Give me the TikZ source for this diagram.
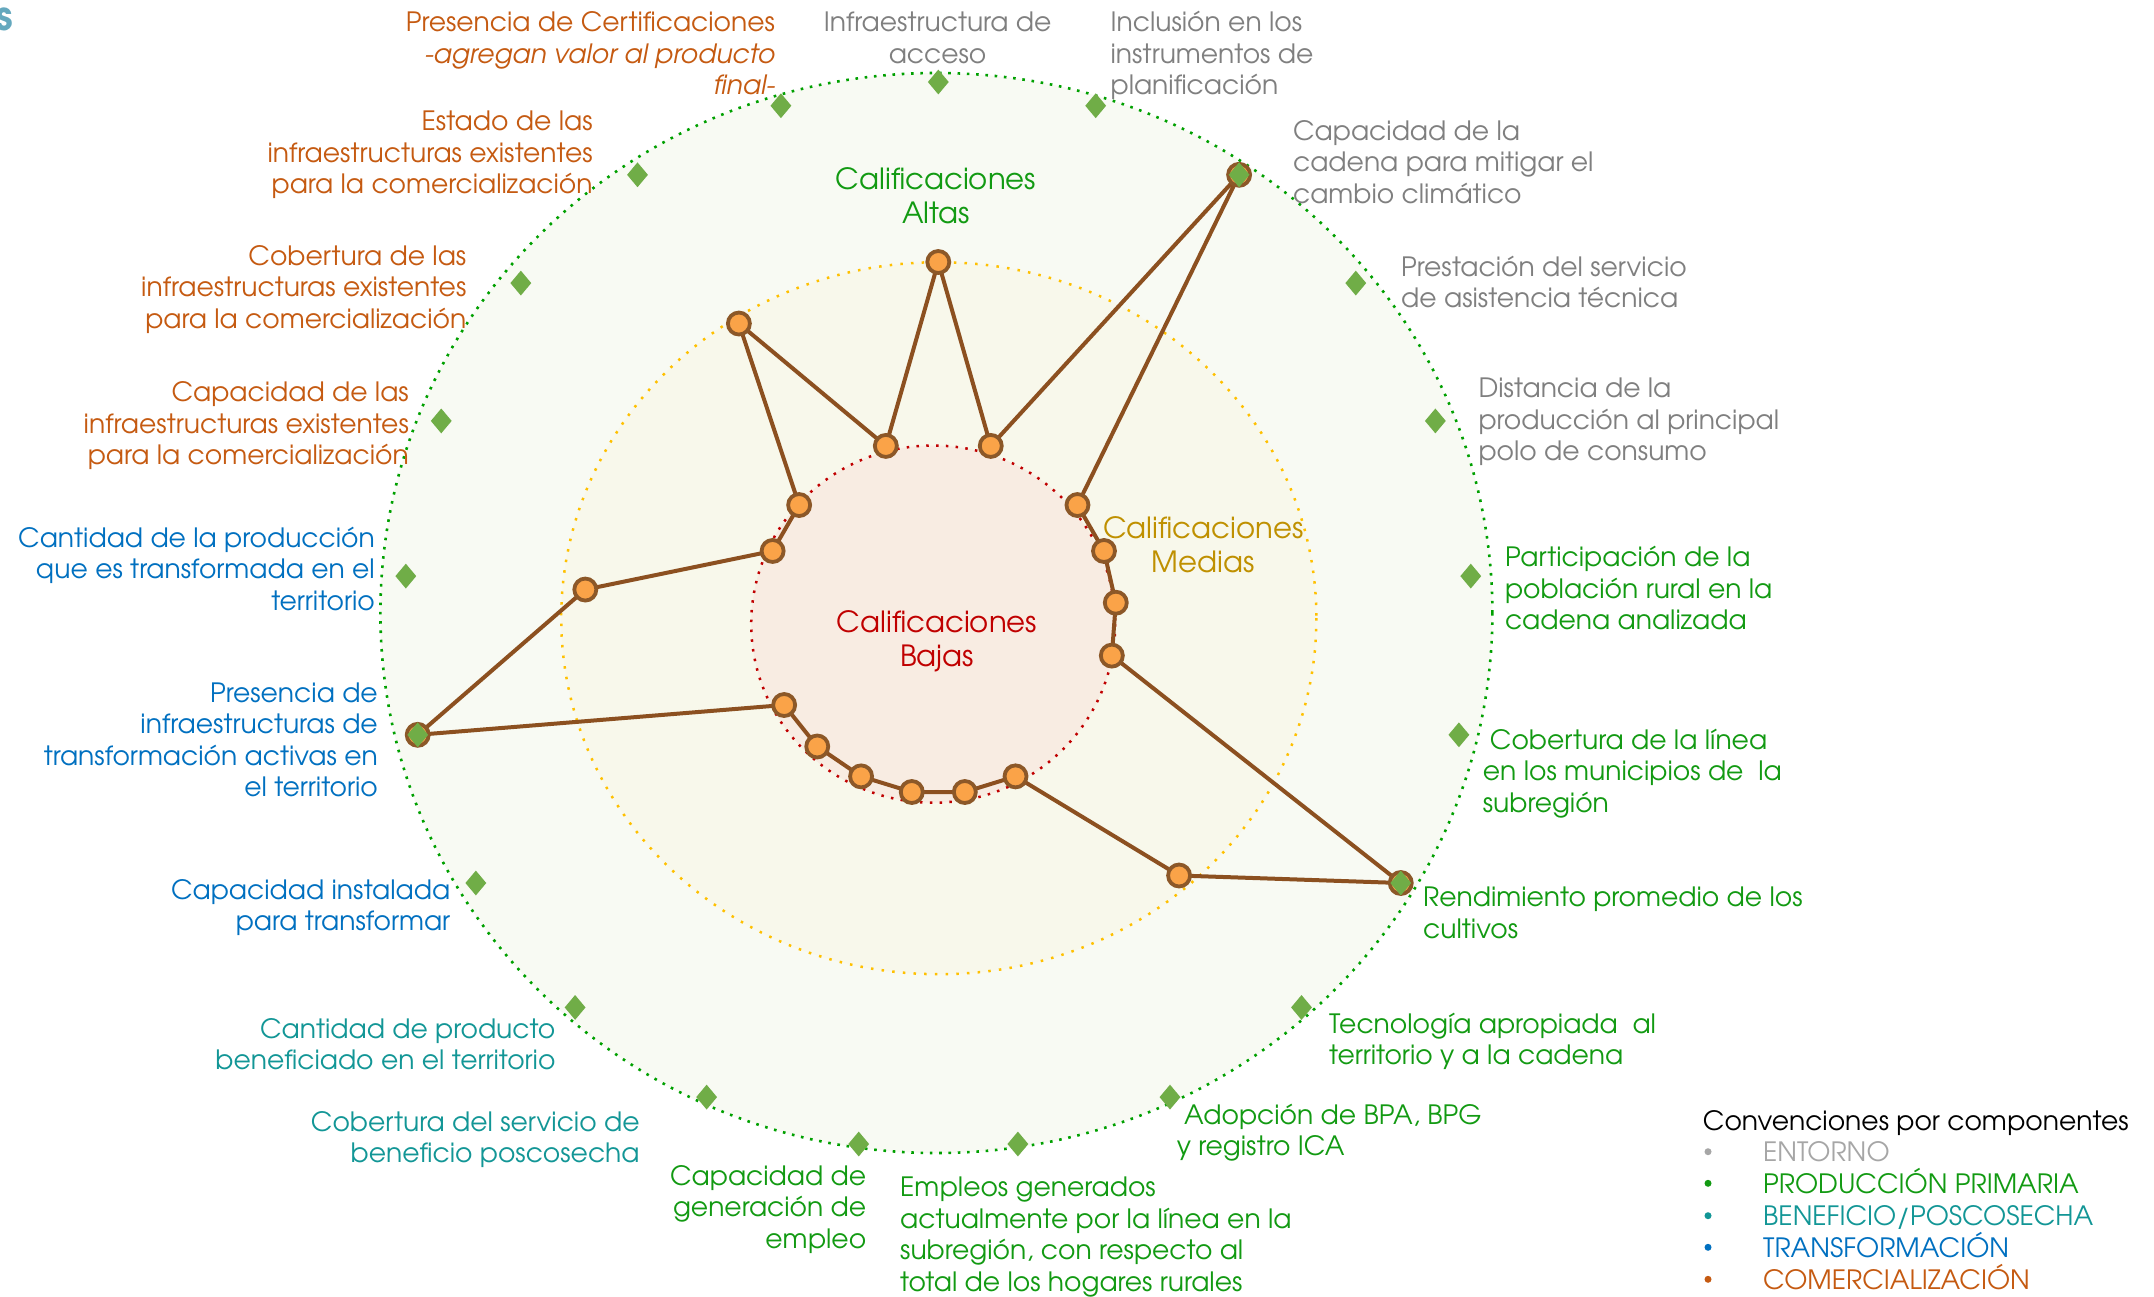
\documentclass[tikz,border=0pt]{standalone}
\usepackage{fontspec}
\setmainfont{texgyreadventor-regular.otf}[BoldFont=texgyreadventor-bold.otf,ItalicFont=texgyreadventor-italic.otf]
\usetikzlibrary{shapes.geometric}
\definecolor{cgray}{RGB}{127,127,127}
\definecolor{cgreen}{RGB}{18,154,18}
\definecolor{cteal}{RGB}{18,150,150}
\definecolor{cblue}{RGB}{0,112,192}
\definecolor{corange}{RGB}{197,90,17}
\definecolor{cgold}{RGB}{191,144,0}
\definecolor{cred}{RGB}{192,0,0}
\definecolor{clgray}{RGB}{166,166,166}
\definecolor{fillout}{RGB}{248,250,243}
\definecolor{fillmid}{RGB}{248,248,235}
\definecolor{fillin}{RGB}{248,236,226}
\definecolor{dotgreen}{RGB}{0,160,0}
\definecolor{dotyellow}{RGB}{255,192,0}
\definecolor{dotred}{RGB}{192,0,0}
\definecolor{mkgreen}{RGB}{112,173,71}
\definecolor{polyc}{RGB}{140,80,32}
\definecolor{nodeline}{RGB}{140,88,40}
\definecolor{nodefill}{RGB}{250,163,72}
\definecolor{stitle}{RGB}{100,168,190}
\newcommand\ml[2]{\begin{tabular}[t]{@{}#1@{}}#2\end{tabular}}
\begin{document}
\begin{tikzpicture}[x=1pt,y=-1pt,
  lbl/.style={inner sep=0pt,font=\fontsize{26.6}{31.5}\selectfont},
  cal/.style={inner sep=0pt,font=\fontsize{29.2}{34}\selectfont},
  mk/.style={shape=diamond,fill=mkgreen,draw=none,inner sep=0pt,minimum width=21pt,minimum height=25pt},
  dotnode/.style={circle,fill=nodefill,draw=nodeline,line width=3.8pt,minimum size=22pt,inner sep=0pt},
  poly/.style={draw=polyc,line width=4pt,line join=round},
  gdots/.style={draw=dotgreen,line width=2.6pt,dash pattern=on 2.6pt off 6.7pt},
  ydots/.style={draw=dotyellow,line width=2.5pt,dash pattern=on 2.5pt off 8.2pt},
  rdots/.style={draw=dotred,line width=2.5pt,dash pattern=on 2.5pt off 7.3pt},
  bul/.style={circle,inner sep=0pt,minimum size=7pt}]
\useasboundingbox (0,0) rectangle (2154,1296);
\fill[white] (0,0) rectangle (2154,1296);
% title fragment
\node[anchor=base east,inner sep=0pt,text=stitle,font=\fontsize{40}{40}\selectfont\bfseries] (ttl) at (13,30) {s};
% rings
\fill[fillout] (936.4,613) ellipse [x radius=556,y radius=540];
\fill[fillmid] (938.8,618.2) ellipse [x radius=377.6,y radius=356];
\fill[fillin] (933.2,624.1) ellipse [x radius=182,y radius=178.6];
\path[gdots] (936.4,613) ellipse [x radius=556,y radius=540];
\path[ydots] (938.8,618.2) ellipse [x radius=377.6,y radius=356];
\path[rdots] (933.2,624.1) ellipse [x radius=182,y radius=178.6];
% coordinates
\foreach \k/\v in {0/2,1/1,2/3,3/1,4/1,5/1,6/1,7/3,8/2,9/1,10/1,11/1,12/1,13/1,14/1,15/3,16/2,17/1,18/1,19/2,20/1}{
  \pgfmathsetmacro\ang{-90+\k*360/21}
  \pgfmathsetmacro\rad{\v==1 ? 178 : (\v==2 ? 354 : 534)}
  \path (938.3,616) ++(\ang:\rad) coordinate (c\k);
  \path (938.3,616) ++(\ang:534) coordinate (a\k);
}
% polygon
\draw[poly] (c0) -- (c1) -- (c2) -- (c3) -- (c4) -- (c5) -- (c6) -- (c7) -- (c8) -- (c9) -- (c10) -- (c11) -- (c12) -- (c13) -- (c14) -- (c15) -- (c16) -- (c17) -- (c18) -- (c19) -- (c20) -- cycle;
\foreach \k in {0,...,20}{\node[dotnode] (p\k) at (c\k) {};}
\foreach \k in {0,...,20}{\node[mk] (d\k) at (a\k) {};}
% labels - entorno
\node[lbl,text=cgray,anchor=base] (l0) at (937.6,31.7) {\ml{c}{Infraestructura de\\acceso}};
\node[lbl,text=cgray,anchor=base west] (l1) at (1110.4,31.7) {\ml{l}{Inclusión en los\\instrumentos de\\planificación}};
\node[lbl,text=cgray,anchor=base west] (l2) at (1292.9,140) {\ml{l}{Capacidad de la\\cadena para mitigar el\\cambio climático}};
\node[lbl,text=cgray,anchor=base west] (l3) at (1401,276) {\ml{l}{Prestación del servicio\\de asistencia técnica}};
\node[lbl,text=cgray,anchor=base west] (l4) at (1478.3,397.7) {\ml{l}{Distancia de la\\producción al principal\\polo de consumo}};
% produccion primaria
\node[lbl,text=cgreen,anchor=base west] (l5) at (1504.8,566.7) {\ml{l}{Participación de la\\población rural en la\\cadena analizada}};
\node[lbl,text=cgreen,anchor=base west] (l6) at (1482.7,749) {\ml{l}{\hspace{7pt}Cobertura de la línea\\en los municipios de\ \ la\\subregión}};
\node[lbl,text=cgreen,anchor=base west] (l7) at (1423,906.7) {\ml{l}{Rendimiento promedio de los\\cultivos}};
\node[lbl,text=cgreen,anchor=base west] (l8) at (1329,1033.3) {\ml{l}{Tecnología apropiada\ \ al\\territorio y a la cadena}};
\node[lbl,text=cgreen,anchor=base west] (l9) at (1176.6,1124) {\ml{l}{\hspace{7.4pt}Adopción de BPA, BPG\\y registro ICA}};
\node[lbl,text=cgreen,anchor=base west] (l10) at (900,1196.7) {\ml{l}{Empleos generados\\actualmente por la línea en la\\subregión, con respecto al\\total de los hogares rurales}};
\node[lbl,text=cgreen,anchor=base east] (l11) at (866.4,1185) {\ml{r}{Capacidad de\\generación de\\empleo}};
% beneficio
\node[lbl,text=cteal,anchor=base east] (l12) at (639.8,1131) {\ml{r}{Cobertura del servicio de\\beneficio poscosecha}};
\node[lbl,text=cteal,anchor=base east] (l13) at (555.6,1038.3) {\ml{r}{Cantidad de producto\\beneficiado en el territorio}};
% transformacion
\node[lbl,text=cblue,anchor=base east] (l14) at (450.4,899) {\ml{r}{Capacidad instalada\\para transformar}};
\node[lbl,text=cblue,anchor=base east] (l15) at (378,702.3) {\ml{r}{Presencia de\\infraestructuras de\\transformación activas en\\el territorio}};
\node[lbl,text=cblue,anchor=base east] (l16) at (375,547.3) {\ml{r}{Cantidad de la producción\\que es transformada en el\\territorio}};
% comercializacion
\node[lbl,text=corange,anchor=base east] (l17) at (409,401.7) {\ml{r}{Capacidad de las\\infraestructuras existentes\\para la comercialización}};
\node[lbl,text=corange,anchor=base east] (l18) at (466.5,265) {\ml{r}{Cobertura de las\\infraestructuras existentes\\para la comercialización}};
\node[lbl,text=corange,anchor=base east] (l19) at (592.8,130.7) {\ml{r}{Estado de las\\infraestructuras existentes\\para la comercialización}};
\node[lbl,text=corange,anchor=base east] (l20) at (775.2,31.7) {\ml{r}{Presencia de Certificaciones\\\textit{-agregan valor al producto}\\\textit{final-}}};
% zone labels
\node[cal,text=cgreen,anchor=base] (zalta) at (936,189) {\ml{c}{Calificaciones\\Altas}};
\node[cal,text=cgold,anchor=base] (zmed) at (1203.3,538.3) {\ml{c}{Calificaciones\\Medias}};
\node[cal,text=cred,anchor=base] (zbaj) at (937,632.7) {\ml{c}{Calificaciones\\Bajas}};
% legend
\node[lbl,text=black,anchor=base west] (lgt) at (1702.7,1130) {Convenciones por componentes};
\node[bul,fill=clgray] (b1) at (1708,1151.7) {};
\node[bul,fill=cgreen] (b2) at (1708,1183.3) {};
\node[bul,fill=cteal] (b3) at (1708,1215.7) {};
\node[bul,fill=cblue] (b4) at (1708,1247.3) {};
\node[bul,fill=corange] (b5) at (1708,1279.3) {};
\node[lbl,text=clgray,anchor=base west] (e1) at (1763,1161.7) {ENTORNO};
\node[lbl,text=cgreen,anchor=base west] (e2) at (1763,1193.3) {PRODUCCIÓN PRIMARIA};
\node[lbl,text=cteal,anchor=base west] (e3) at (1763,1225.7) {BENEFICIO/POSCOSECHA};
\node[lbl,text=cblue,anchor=base west] (e4) at (1763,1257.3) {TRANSFORMACIÓN};
\node[lbl,text=corange,anchor=base west] (e5) at (1763,1289.3) {COMERCIALIZACIÓN};
\end{tikzpicture}
\end{document}
